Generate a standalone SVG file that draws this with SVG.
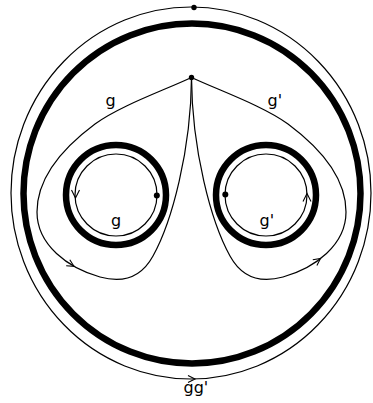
<svg xmlns="http://www.w3.org/2000/svg" width="373" height="403" viewBox="0 0 373 403">
<style>
.thin{fill:none;stroke:#000;stroke-width:1.2}
.thick{fill:none;stroke:#000;stroke-width:6.5}
.arr{fill:none;stroke:#000;stroke-width:1.1}
.lbl{font-family:"DejaVu Sans",sans-serif;font-size:16px;fill:#000}
.dot{fill:#000}
</style>
<rect width="373" height="403" fill="#fff"/>
<g id="outer-boundary">
<ellipse class="thick" cx="192" cy="193.5" rx="168.5" ry="170"/>
</g>
<g id="left-hole">
<circle class="thick" cx="116" cy="195" r="50"/>
</g>
<g id="right-hole">
<circle class="thick" cx="266" cy="195" r="50"/>
</g>
<g id="connectors">
<ellipse class="thin" cx="191" cy="193" rx="180" ry="186"/>
<path class="arr" d="M-7,-3.5 L0,0 L-7,3.5" transform="translate(195,379)"/>
<circle class="thin" cx="116" cy="195" r="41"/>
<path class="arr" d="M-8,-4 L0,0 L-8,4" transform="translate(75.5,198) rotate(90)"/>
<circle class="thin" cx="266" cy="195" r="41"/>
<path class="arr" d="M-8,-4 L0,0 L-8,4" transform="translate(307,193.5) rotate(-90)"/>
<path class="thin" d="M191.5,77.5 C160,92 120,106 95,124 C60,150 37,180 37,212 C37,245 68,268 100,277 C125,284 142,276 153,256 C172,222 191,150 191.5,77.5"/>
<path class="arr" d="M-7,-3.5 L0,0 L-7,3.5" transform="translate(74,266.3) rotate(31)"/>
<path class="thin" d="M191.5,77.5 C223,92 263,106 288,124 C323,150 346,180 346,212 C346,245 315,268 283,277 C258,284 241,276 230,256 C211,222 192,150 191.5,77.5"/>
<path class="arr" d="M-7,-3.5 L0,0 L-7,3.5" transform="translate(320.5,258.5) rotate(-36)"/>
</g>
<g id="points">
<circle class="dot" cx="194" cy="7.5" r="2.7"/>
<circle class="dot" cx="191.5" cy="77.5" r="2.7"/>
<circle class="dot" cx="156.8" cy="195.5" r="3"/>
<circle class="dot" cx="225.3" cy="194.5" r="3"/>
</g>
<g id="labels">
<text class="lbl" x="105.5" y="106">g</text>
<text class="lbl" x="267.5" y="106">g'</text>
<text class="lbl" x="111" y="226">g</text>
<text class="lbl" x="259.5" y="226">g'</text>
<text class="lbl" x="183.5" y="393">gg'</text>
</g>
</svg>
